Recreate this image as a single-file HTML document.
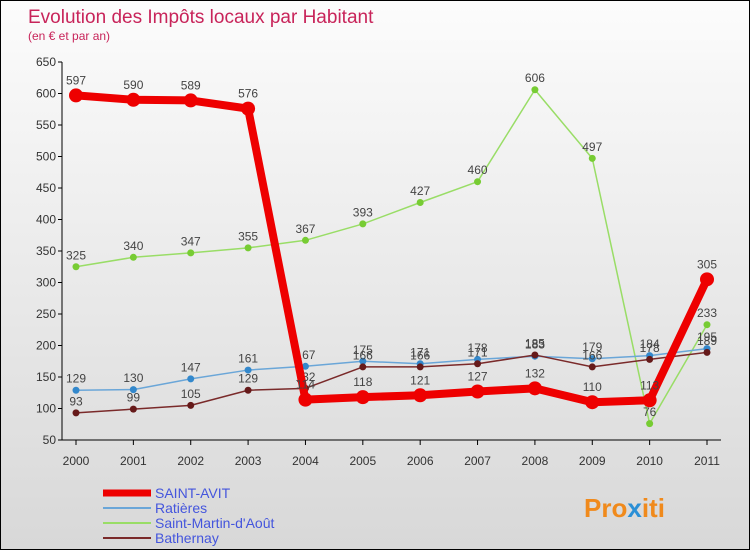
<!DOCTYPE html>
<html><head><meta charset="utf-8"><style>
body{margin:0}
#c{width:750px;height:550px;position:relative;box-sizing:border-box;border:1px solid #000;background:linear-gradient(#fcfcfc,#d8d8d8);font-family:"Liberation Sans",sans-serif;overflow:hidden}
</style></head><body>
<div id="c">
<svg id="s" width="750" height="550" style="position:absolute;left:0;top:0">
<text x="27" y="22" font-size="19" fill="#c8245a">Evolution des Impôts locaux par Habitant</text>
<text x="27" y="39" font-size="12" fill="#c8245a">(en € et par an)</text>
<g id="grid"></g><g id="series"></g><g id="legend"></g>
<text x="583" y="516" font-size="26" font-weight="bold" fill="#f08a1c">Pro<tspan fill="#2a8fd6">x</tspan>iti</text>
</svg>
</div>
<script>
const years=["2000","2001","2002","2003","2004","2005","2006","2007","2008","2009","2010","2011"];
const yTicks=[50,100,150,200,250,300,350,400,450,500,550,600,650];
const saintAvit=[597,590,589,576,114,118,121,127,132,110,113,305];
const ratieres=[129,130,147,161,167,175,171,178,183,179,184,195];
const saintMartin=[325,340,347,355,367,393,427,460,606,497,76,233];
const bathernay=[93,99,105,129,132,166,166,171,185,166,178,189];
const NS="http://www.w3.org/2000/svg";
const X0=75,X1=706,Y50=439,Y650=61;
const xs=i=>X0+(X1-X0)*i/(years.length-1);
const ys=v=>Y50-(v-50)*(Y50-Y650)/600;
function mk(t,a,p){const e=document.createElementNS(NS,t);for(const k in a)e.setAttribute(k,a[k]);p.appendChild(e);return e;}
const g=document.getElementById('grid');
const ax=mk('line',{x1:61,y1:61,x2:61,y2:439,stroke:'#000'},g);


const bx=mk('line',{x1:61,y1:439,x2:720,y2:439,stroke:'#000'},g);


yTicks.forEach(v=>{const y=ys(v);
mk('line',{x1:57,y1:y,x2:61,y2:y,stroke:'#000'},g);
const t=mk('text',{x:55,y:y+4,'text-anchor':'end','font-size':12,fill:'#333'},g);t.textContent=v;

});
years.forEach((yr,i)=>{const x=xs(i);
mk('line',{x1:x,y1:439,x2:x,y2:444,stroke:'#000'},g);
const t=mk('text',{x:x,y:464,'text-anchor':'middle','font-size':12,fill:'#333'},g);t.textContent=yr;

});
const S=document.getElementById('series');
function draw(name,vals,color,w,r,dot){
const grp=mk('g',{},S);


const l=mk('polyline',{points:vals.map((v,i)=>xs(i)+','+ys(v)).join(' '),fill:'none',stroke:color,'stroke-width':w,'stroke-linejoin':'round'},grp);


vals.forEach((v,i)=>{const c=mk('circle',{cx:xs(i),cy:ys(v),r:r,fill:dot},grp);


const t=mk('text',{x:xs(i),y:ys(v)-r-4,'text-anchor':'middle','font-size':12,fill:'#444'},grp);t.textContent=v;

});}
draw('saint-martin',saintMartin,'#99dd66',1.5,3.5,'#77cc33');
draw('ratieres',ratieres,'#6aa6d8',1.5,3.5,'#3388cc');
draw('bathernay',bathernay,'#7a2a2a',1.5,3.5,'#661a1a');
draw('saint-avit',saintAvit,'#ee0000',8,7,'#ee0000');
const L=document.getElementById('legend');
[['SAINT-AVIT','#ee0000',7],['Ratières','#6aa6d8',2],['Saint-Martin-d\'Aoôt'.replace('Aoôt','Août'),'#99dd66',2],['Bathernay','#7a2a2a',2]].forEach((e,i)=>{
const y=492+i*15;
const ln=mk('line',{x1:102,y1:y,x2:150,y2:y,stroke:e[1],'stroke-width':e[2]},L);


const t=mk('text',{x:154,y:y+5,'font-size':14,fill:'#4455dd'},L);t.textContent=e[0];

});
</script>
</body></html>
